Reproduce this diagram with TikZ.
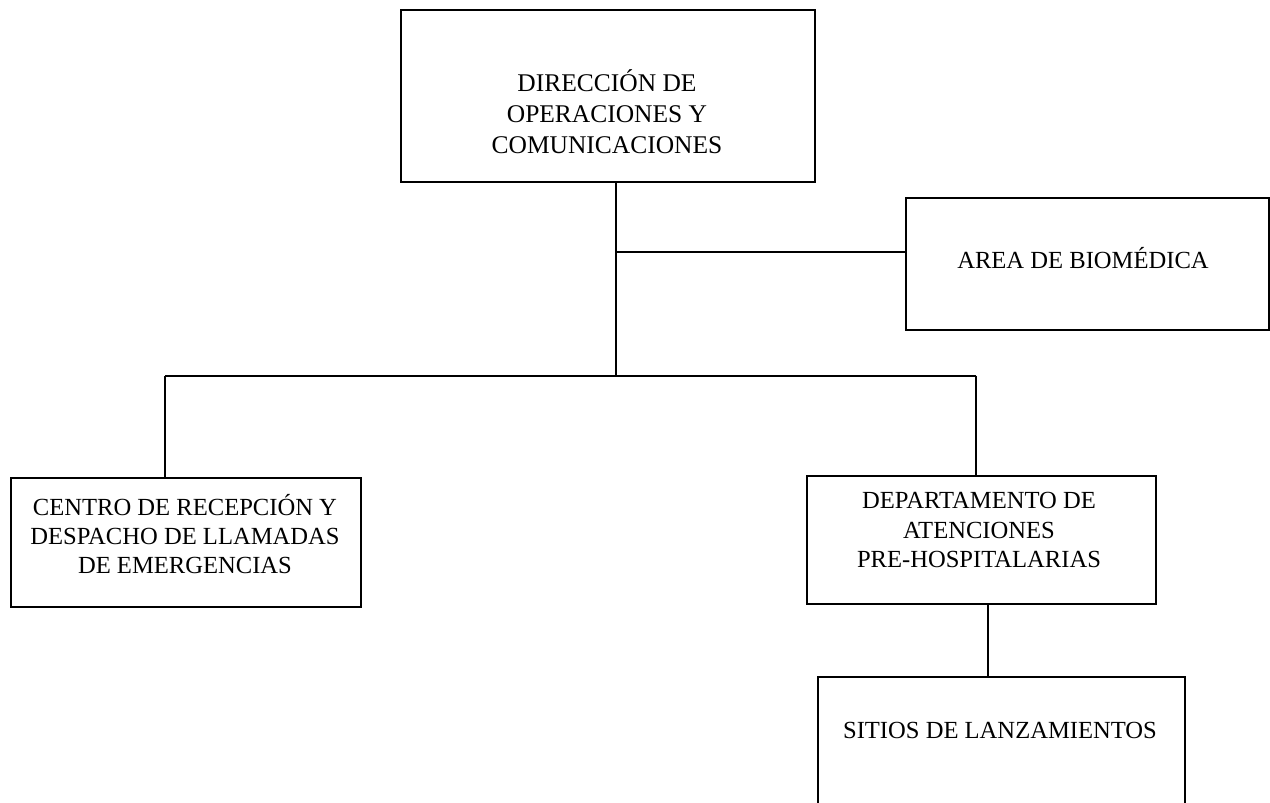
\documentclass[tikz,border=0pt]{standalone}
\usepackage{fontspec}
\setmainfont{Liberation Serif}
\usetikzlibrary{positioning}

\begin{document}
\begin{tikzpicture}[x=0.02cm,y=-0.02cm,line width=1.1pt,
                    box/.style={shape=rectangle,draw,inner sep=0pt},
                    txt/.style={align=center,inner sep=0pt,
                                font=\fontsize{14pt}{16.6pt}\selectfont}]

  \clip (0,0) rectangle (1270,802);

  % boxes
  \node[box,minimum width=8.28cm,minimum height=3.44cm] (dir) at (608,96) {};
  \node[box,minimum width=7.26cm,minimum height=2.64cm] (bio) at (1087.5,264) {};
  \node[box,minimum width=7.00cm,minimum height=2.58cm] (crd) at (186,542.5) {};
  \node[box,minimum width=6.98cm,minimum height=2.56cm] (dap) at (981.5,540) {};
  \node[box,minimum width=7.34cm,minimum height=2.66cm] (sit) at (1001.5,743.5) {};

  % texts
  \node[txt,font=\fontsize{14.5pt}{17.6pt}\selectfont] (dir-t) at (607,112) {DIRECCIÓN DE\\OPERACIONES Y\\COMUNICACIONES};
  \node[txt] (bio-t) at (1083,258) {AREA DE BIOMÉDICA};
  \node[txt] (crd-t) at (185,534) {CENTRO DE RECEPCIÓN Y\\DESPACHO DE LLAMADAS\\DE EMERGENCIAS};
  \node[txt] (dap-t) at (979,530) {DEPARTAMENTO DE\\ATENCIONES\\PRE-HOSPITALARIAS};
  \node[txt] (sit-t) at (1000,730) {SITIOS DE LANZAMIENTOS};

  % connectors
  \coordinate (hub) at (615.7,375.7);
  \coordinate (bioj) at (615.7,252);
  \coordinate (lft) at (165,375.7);
  \coordinate (rgt) at (975.7,375.7);
  \coordinate (dsj) at (988,0);

  \draw (dir.south -| hub) -- (hub);
  \draw (bioj) -- (bioj -| bio.west);
  \draw (lft) -- (rgt);
  \draw (lft) -- (lft |- crd.north);
  \draw (rgt) -- (rgt |- dap.north);
  \draw (dap.south -| dsj) -- (sit.north -| dsj);
\end{tikzpicture}
\end{document}
